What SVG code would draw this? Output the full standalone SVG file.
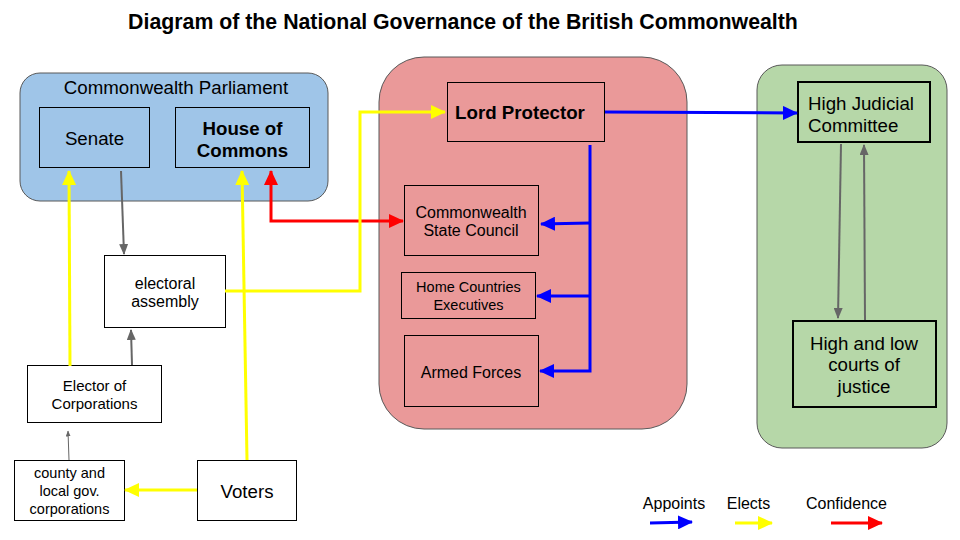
<svg xmlns="http://www.w3.org/2000/svg" width="960" height="540" viewBox="0 0 960 540">
<defs>
<style>
text{font-family:"Liberation Sans",Arial,sans-serif;fill:#000}
.t18{font-size:18.7px}
.t15{font-size:16px}
.t14{font-size:15px}
.t13{font-size:14.5px}
.b{font-weight:bold}
.m{text-anchor:middle}
.grp{stroke:#595959;stroke-width:1}
.box{stroke:#000;stroke-width:1}
.box2{stroke:#000;stroke-width:2}
.c{fill:none}
.yl{stroke:#ffff00;stroke-width:3}
.bl{stroke:#0000ff;stroke-width:3}
.rd{stroke:#ff0000;stroke-width:3}
.gr{stroke:#666666;stroke-width:2}
.gt{stroke:#666666;stroke-width:1}
</style>
<marker id="ay" markerUnits="userSpaceOnUse" markerWidth="15" markerHeight="14" refX="14" refY="7" orient="auto"><path d="M0,0 L15,7 L0,14 z" fill="#ffff00"/></marker>
<marker id="ab" markerUnits="userSpaceOnUse" markerWidth="15" markerHeight="14" refX="14" refY="7" orient="auto"><path d="M0,0 L15,7 L0,14 z" fill="#0000ff"/></marker>
<marker id="ar" markerUnits="userSpaceOnUse" markerWidth="15" markerHeight="14" refX="14" refY="7" orient="auto"><path d="M0,0 L15,7 L0,14 z" fill="#ff0000"/></marker>
<marker id="ag" markerUnits="userSpaceOnUse" markerWidth="11" markerHeight="9" refX="10" refY="4.5" orient="auto"><path d="M0,0 L11,4.5 L0,9 z" fill="#666666"/></marker>
<marker id="at" markerUnits="userSpaceOnUse" markerWidth="6" markerHeight="5" refX="5.5" refY="2.5" orient="auto"><path d="M0,0 L6,2.5 L0,5 z" fill="#666666"/></marker>
</defs>
<rect width="960" height="540" fill="#ffffff"/>
<text x="463" y="29" class="b m" font-size="21.3">Diagram of the National Governance of the British Commonwealth</text>

<g id="parliament">
<rect x="20" y="73" width="308" height="128" rx="20" fill="#9fc5e8" class="grp"/>
<text x="176" y="93.5" class="t18 m">Commonwealth Parliament</text>
</g>
<g id="senate">
<rect x="39.5" y="107.5" width="110" height="60" fill="#9fc5e8" class="box"/>
<text x="94.5" y="144.5" class="t18 m">Senate</text>
</g>
<g id="commons">
<rect x="175.5" y="107.5" width="134" height="60" fill="#9fc5e8" class="box"/>
<text x="242.5" y="134.5" class="t18 m b">House of</text>
<text x="242.5" y="156.5" class="t18 m b">Commons</text>
</g>
<g id="electoral-assembly">
<rect x="104.5" y="255.5" width="121" height="72" fill="#ffffff" class="box"/>
<text x="165" y="288.5" class="t15 m">electoral</text>
<text x="165" y="306.5" class="t15 m">assembly</text>
</g>
<g id="elector-corporations">
<rect x="27.5" y="365.5" width="134" height="57" fill="#ffffff" class="box"/>
<text x="94.5" y="390.5" class="t14 m">Elector of</text>
<text x="94.5" y="408.5" class="t14 m">Corporations</text>
</g>
<g id="county">
<rect x="14.5" y="460.5" width="110" height="60" fill="#ffffff" class="box"/>
<text x="69.5" y="478" class="t13 m">county and</text>
<text x="69.5" y="496" class="t13 m">local gov.</text>
<text x="69.5" y="513.5" class="t13 m">corporations</text>
</g>
<g id="voters">
<rect x="197.5" y="460.5" width="99" height="60" fill="#ffffff" class="box"/>
<text x="247" y="497.5" class="t18 m">Voters</text>
</g>

<g id="executive">
<rect x="379" y="57" width="308" height="372" rx="45" fill="#ea9999" class="grp"/>
</g>
<g id="lord-protector">
<rect x="447.5" y="82.5" width="157" height="59" fill="#ea9999" class="box"/>
<text x="520" y="118.5" class="t18 m b">Lord Protector</text>
</g>
<g id="state-council">
<rect x="404.5" y="185.5" width="134" height="70" fill="#ea9999" class="box"/>
<text x="471" y="217.5" class="t15 m">Commonwealth</text>
<text x="471" y="235.5" class="t15 m">State Council</text>
</g>
<g id="home-executives">
<rect x="401.5" y="272.5" width="134" height="46" fill="#ea9999" class="box"/>
<text x="468.5" y="292" class="t13 m">Home Countries</text>
<text x="468.5" y="309.5" class="t13 m">Executives</text>
</g>
<g id="armed-forces">
<rect x="404.5" y="335.5" width="134" height="71" fill="#ea9999" class="box"/>
<text x="471" y="377.5" class="t15 m">Armed Forces</text>
</g>

<g id="judiciary">
<rect x="757" y="65" width="190" height="383" rx="25" fill="#b6d7a8" class="grp"/>
</g>
<g id="high-judicial">
<rect x="798" y="82" width="132" height="60" fill="#b6d7a8" class="box2"/>
<text x="808" y="110" class="t18">High Judicial</text>
<text x="808" y="131.5" class="t18">Committee</text>
</g>
<g id="courts">
<rect x="793" y="321" width="143" height="86" fill="#b6d7a8" class="box2"/>
<text x="864" y="349.5" class="t18 m">High and low</text>
<text x="864" y="370.5" class="t18 m">courts of</text>
<text x="864" y="392.5" class="t18 m">justice</text>
</g>

<g id="connectors" class="c">
<path d="M121,171 L124,254" class="gr" marker-end="url(#ag)"/>
<path d="M70,366 L69,171" class="yl" marker-end="url(#ay)"/>
<path d="M247,460 L242,171" class="yl" marker-end="url(#ay)"/>
<path d="M271,220 L271,171" class="rd" marker-end="url(#ar)"/>
<path d="M271,220 L271,221 L403,221" class="rd" marker-end="url(#ar)"/>
<path d="M225,291 L360,291 L360,112 L445,112" class="yl" marker-end="url(#ay)"/>
<path d="M132,365 L131,330" class="gr" marker-end="url(#ag)"/>
<path d="M69,460 L68,431" class="gt" marker-end="url(#at)"/>
<path d="M197,490 L125,490" class="yl" marker-end="url(#ay)"/>
<path d="M605,112 L797,113" class="bl" marker-end="url(#ab)"/>
<path d="M590,145 L590,371 L540,371" class="bl" marker-end="url(#ab)"/>
<path d="M590,223 L541,224" class="bl" marker-end="url(#ab)"/>
<path d="M590,296 L537,296" class="bl" marker-end="url(#ab)"/>
<path d="M841,144 L838,318" class="gr" marker-end="url(#ag)"/>
<path d="M865,320 L864,145" class="gr" marker-end="url(#ag)"/>
</g>

<g id="legend">
<text x="674" y="508.5" class="t15 m">Appoints</text>
<text x="748.5" y="508.5" class="t15 m">Elects</text>
<text x="846.5" y="508.5" class="t15 m">Confidence</text>
<g class="c">
<path d="M650,523 L692,522" class="bl" marker-end="url(#ab)"/>
<path d="M735,523 L772,523" class="yl" marker-end="url(#ay)"/>
<path d="M831,523 L882,523" class="rd" marker-end="url(#ar)"/>
</g>
</g>
</svg>
